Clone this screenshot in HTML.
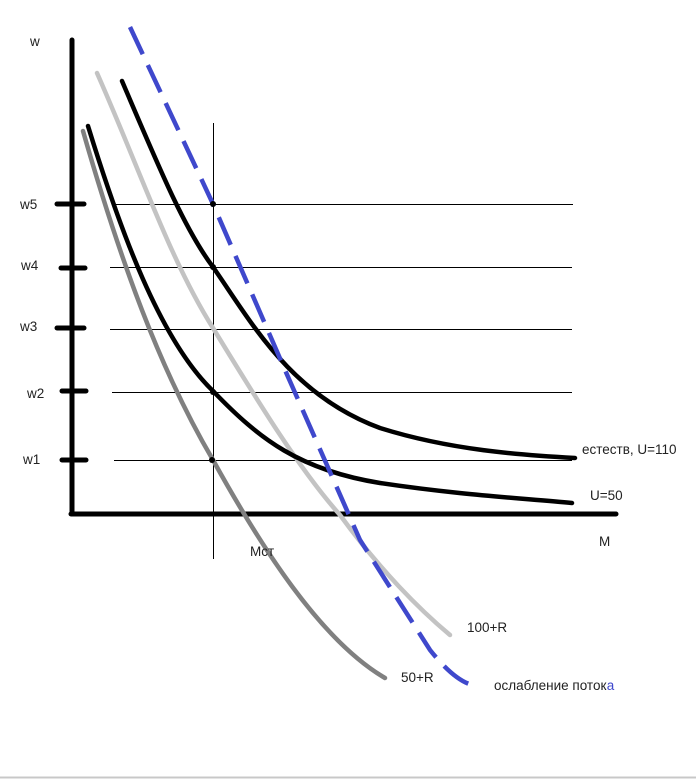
<!DOCTYPE html>
<html><head><meta charset="utf-8"><style>
body{margin:0;background:#fff;width:696px;height:779px;overflow:hidden}
text{font-family:"Liberation Sans",sans-serif;font-size:13.5px;fill:#222}
</style></head><body>
<svg width="696" height="779" viewBox="0 0 696 779">
<line x1="0" y1="777.5" x2="696" y2="777.5" stroke="#c8c8c8" stroke-width="2"/>
<g stroke="#000" stroke-width="1" fill="none" shape-rendering="crispEdges">
<line x1="112" y1="204.5" x2="573" y2="204.5"/>
<line x1="110" y1="267.5" x2="572" y2="267.5"/>
<line x1="110" y1="329.5" x2="572" y2="329.5"/>
<line x1="112" y1="392.5" x2="572" y2="392.5"/>
<line x1="114" y1="460.5" x2="572" y2="460.5"/>
<line x1="213.5" y1="123" x2="213.5" y2="559"/>
</g>
<g stroke="#000" stroke-width="5" stroke-linecap="round" fill="none">
<line x1="72" y1="40" x2="72" y2="514"/>
<line x1="71" y1="514" x2="616" y2="514"/>
<line x1="57" y1="204" x2="84" y2="204"/>
<line x1="61" y1="268" x2="85" y2="268"/>
<line x1="57" y1="328" x2="84" y2="328"/>
<line x1="62" y1="391" x2="86" y2="391"/>
<line x1="62" y1="460" x2="86" y2="460"/>
</g>
<path d="M83,131 C120,260 160,370 213,460 C260,545 320,640 385,678" stroke="#808080" stroke-width="4.5" fill="none" stroke-linecap="round"/>
<path d="M97,73 C140,170 170,260 213,328 C260,405 300,470 340,515 C380,570 420,610 450,635" stroke="#c3c3c3" stroke-width="4.5" fill="none" stroke-linecap="round"/>
<path d="M88,126 C120,230 160,340 213,391 C260,440 300,470 380,483 C460,495 520,498 572,503" stroke="#000" stroke-width="4.5" fill="none" stroke-linecap="round"/>
<path d="M122,81 C160,170 185,230 213,267 C250,320 290,395 380,428 C450,450 520,455 575,458" stroke="#000" stroke-width="4.5" fill="none" stroke-linecap="round"/>
<path d="M130,27 L213,204 L285,370 L360,540 L430,650 C450,675 465,685 478,686" stroke="#3f48cc" stroke-width="4.5" fill="none" stroke-dasharray="30,12"/>
<g fill="#000"><circle cx="213" cy="204" r="3"/><circle cx="213" cy="267" r="3"/><circle cx="213" cy="392" r="3"/><circle cx="212" cy="460" r="3"/></g>
<text x="30" y="46">w</text>
<text x="20" y="209">w5</text>
<text x="21" y="270">w4</text>
<text x="20" y="331">w3</text>
<text x="27" y="398">w2</text>
<text x="23" y="464">w1</text>
<text x="250" y="556">Mст</text>
<text x="599" y="546">M</text>
<text x="582" y="454">естеств, U=110</text>
<text x="590" y="500">U=50</text>
<text x="467" y="632">100+R</text>
<text x="401" y="682">50+R</text>
<text x="494" y="690">ослабление поток<tspan fill="#3f48cc">а</tspan></text>
</svg>
</body></html>
